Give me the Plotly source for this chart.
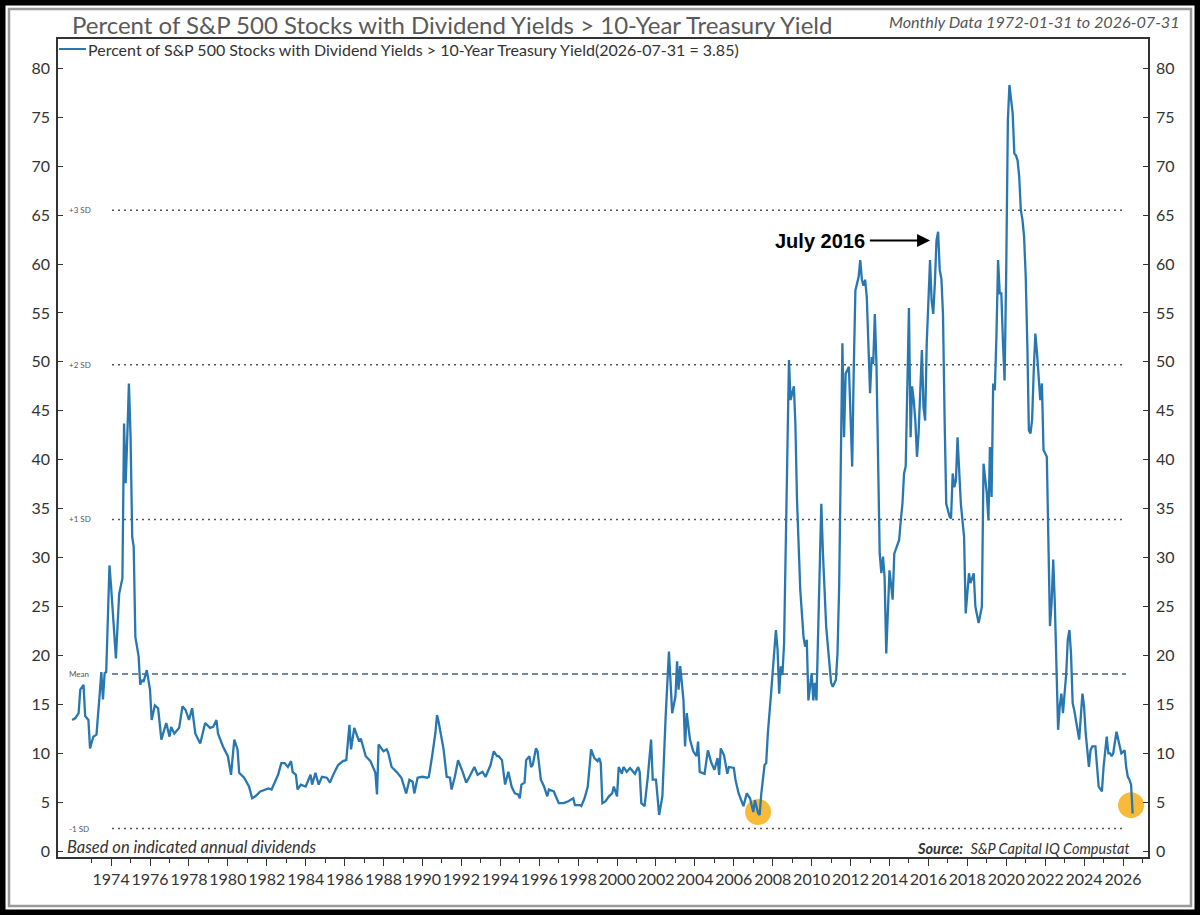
import plotly.graph_objs as go

dates = [
    "1972-01", "1972-03", "1972-05", "1972-06", "1972-08", "1972-09", "1972-11", "1972-12",
    "1973-02", "1973-04", "1973-06", "1973-07", "1973-08", "1973-09", "1973-10", "1973-12",
    "1974-01", "1974-03", "1974-04", "1974-06", "1974-08", "1974-09", "1974-10", "1974-11", "1974-12",
    "1975-01", "1975-02", "1975-03", "1975-04", "1975-06", "1975-07", "1975-08", "1975-09", "1975-11",
    "1976-01", "1976-02", "1976-04", "1976-06", "1976-08", "1976-11",
    "1977-01", "1977-02", "1977-04", "1977-07", "1977-09", "1977-11",
    "1978-01", "1978-03", "1978-05", "1978-08", "1978-11",
    "1979-02", "1979-04", "1979-06", "1979-07", "1979-10",
    "1980-01", "1980-03", "1980-04", "1980-05", "1980-07", "1980-08", "1980-11",
    "1981-02", "1981-04", "1981-06", "1981-09", "1981-11",
    "1982-02", "1982-04", "1982-06", "1982-08", "1982-10", "1982-12",
    "1983-02", "1983-04", "1983-05", "1983-07", "1983-08", "1983-10",
    "1984-01", "1984-03", "1984-04", "1984-05", "1984-07", "1984-09", "1984-11",
    "1985-02", "1985-04", "1985-06", "1985-09", "1985-12",
    "1986-02", "1986-04", "1986-05", "1986-07", "1986-08", "1986-10", "1986-11",
    "1987-02", "1987-05", "1987-07", "1987-08", "1987-09", "1987-10",
    "1988-01", "1988-03", "1988-04", "1988-06", "1988-09", "1988-12",
    "1989-03", "1989-05", "1989-07", "1989-08", "1989-10",
    "1990-01", "1990-04", "1990-05", "1990-07", "1990-09", "1990-10", "1990-11",
    "1991-02", "1991-04", "1991-06", "1991-07", "1991-09", "1991-11",
    "1992-02", "1992-04", "1992-06", "1992-09", "1992-11",
    "1993-02", "1993-04", "1993-06", "1993-07", "1993-09", "1993-11", "1993-12",
    "1994-02", "1994-04", "1994-06", "1994-08", "1994-10", "1994-12",
    "1995-01", "1995-02", "1995-04", "1995-05", "1995-07", "1995-08", "1995-09", "1995-11", "1995-12",
    "1996-02", "1996-04", "1996-06", "1996-07", "1996-10",
    "1997-01", "1997-04", "1997-07", "1997-10", "1997-11",
    "1998-02", "1998-03", "1998-05", "1998-07", "1998-09", "1998-11",
    "1999-01", "1999-02", "1999-03", "1999-04", "1999-06", "1999-08", "1999-10", "1999-11",
    "2000-01", "2000-02", "2000-04", "2000-05", "2000-07", "2000-09", "2000-12",
    "2001-02", "2001-03", "2001-04", "2001-06", "2001-08", "2001-10", "2001-11",
    "2002-01", "2002-02", "2002-03", "2002-05", "2002-06", "2002-07", "2002-09", "2002-10", "2002-11",
    "2003-01", "2003-02", "2003-03", "2003-04", "2003-06", "2003-07", "2003-08", "2003-10", "2003-12",
    "2004-02", "2004-03", "2004-04", "2004-07", "2004-09", "2004-11",
    "2005-01", "2005-03", "2005-04", "2005-05", "2005-07", "2005-09", "2005-10",
    "2006-01", "2006-02", "2006-04", "2006-06", "2006-07", "2006-09", "2006-11",
    "2007-01", "2007-02", "2007-04", "2007-05", "2007-06", "2007-08", "2007-09", "2007-10", "2007-12",
    "2008-01", "2008-03", "2008-04", "2008-05", "2008-06", "2008-07", "2008-08", "2008-09", "2008-10", "2008-11", "2008-12",
    "2009-02", "2009-03", "2009-04", "2009-06", "2009-08", "2009-09", "2009-10", "2009-11",
    "2010-01", "2010-02", "2010-03", "2010-04", "2010-06", "2010-07", "2010-08", "2010-10",
    "2011-01", "2011-02", "2011-04", "2011-05", "2011-06", "2011-07", "2011-08", "2011-09", "2011-10", "2011-12",
    "2012-01", "2012-02", "2012-03", "2012-04", "2012-06", "2012-07", "2012-08", "2012-09", "2012-10", "2012-11",
    "2013-01", "2013-02", "2013-03", "2013-04", "2013-05", "2013-06", "2013-07", "2013-08", "2013-09", "2013-10", "2013-11",
    "2014-01", "2014-02", "2014-03", "2014-04", "2014-05", "2014-07", "2014-08", "2014-09", "2014-10", "2014-11",
    "2015-01", "2015-02", "2015-03", "2015-04", "2015-05", "2015-06", "2015-07", "2015-08", "2015-09", "2015-10", "2015-11", "2015-12",
    "2016-02", "2016-03", "2016-04", "2016-05", "2016-06", "2016-07", "2016-08", "2016-09", "2016-10", "2016-11", "2016-12",
    "2017-02", "2017-03", "2017-04", "2017-05", "2017-06", "2017-07", "2017-09", "2017-11", "2017-12",
    "2018-01", "2018-02", "2018-03", "2018-05", "2018-06", "2018-07", "2018-08", "2018-10", "2018-11",
    "2019-01", "2019-02", "2019-03", "2019-04", "2019-05", "2019-06", "2019-07", "2019-08", "2019-09", "2019-10", "2019-11", "2019-12",
    "2020-01", "2020-02", "2020-03", "2020-04", "2020-05", "2020-06", "2020-07", "2020-08", "2020-09", "2020-10", "2020-11", "2020-12",
    "2021-01", "2021-02", "2021-03", "2021-04", "2021-05", "2021-06", "2021-07", "2021-08", "2021-09", "2021-10", "2021-11", "2021-12",
    "2022-02", "2022-03", "2022-04", "2022-05", "2022-06", "2022-07", "2022-08", "2022-09", "2022-10", "2022-11", "2022-12",
    "2023-02", "2023-03", "2023-04", "2023-05", "2023-06", "2023-07", "2023-08", "2023-10", "2023-12",
    "2024-01", "2024-02", "2024-04", "2024-05", "2024-06", "2024-08", "2024-09", "2024-10", "2024-12",
    "2025-01", "2025-03", "2025-04", "2025-05", "2025-06", "2025-07", "2025-08", "2025-09", "2025-11", "2025-12",
    "2026-02", "2026-03", "2026-04", "2026-05", "2026-06", "2026-07",
]

pct = [
    13.4, 13.6, 14.1, 16.5, 17.0, 13.8, 13.4, 10.5,
    11.7, 11.9, 16.1, 18.3, 15.5, 18.2, 18.3, 29.2,
    27.0, 21.9, 19.7, 26.3, 27.9, 43.7, 37.6, 42.4, 47.8,
    42.4, 32.1, 31.1, 21.9, 19.9, 17.0, 17.5, 17.3, 18.5,
    16.5, 13.4, 14.9, 14.6, 11.4, 13.1,
    11.7, 12.7, 12.0, 12.6, 14.8, 14.4,
    13.4, 14.6, 12.0, 11.0, 13.1,
    12.6, 12.7, 13.4, 12.0, 10.7,
    9.7, 7.8, 9.3, 11.4, 10.4, 8.0, 7.5,
    6.6, 5.4, 5.6, 6.1, 6.2,
    6.4, 6.3, 7.1, 7.8, 9.0, 9.0,
    8.6, 9.2, 8.1, 7.8, 6.3, 6.8,
    6.6, 7.5, 7.8, 6.8, 8.0, 6.8, 7.6,
    7.5, 7.0, 7.8, 8.8, 9.2,
    9.3, 12.9, 10.4, 12.6, 12.1, 11.2, 11.5,
    9.7, 9.2, 8.5, 8.0, 5.8, 10.9,
    10.2, 10.4, 10.0, 8.6, 8.1, 7.5,
    5.9, 7.3, 7.1, 5.9, 7.5,
    7.6, 7.5, 7.6, 9.7, 12.1, 13.9, 13.2,
    10.4, 7.6, 7.5, 6.3, 7.6, 9.3,
    8.0, 7.0, 7.6, 8.6, 7.8,
    8.1, 7.6, 8.3, 8.8, 10.2, 9.7, 9.7,
    9.3, 6.8, 8.1, 6.6, 5.9, 5.8,
    5.4, 6.8, 7.0, 9.3, 9.7, 8.6, 8.8, 10.5, 10.2,
    7.3, 6.6, 5.6, 6.3, 6.1,
    4.9, 4.9, 5.1, 5.4, 4.7,
    4.7, 4.6, 5.4, 6.6, 10.4, 9.5,
    9.2, 9.5, 9.0, 4.9, 5.1, 5.6, 5.9, 6.6,
    5.6, 8.6, 7.9, 8.6, 8.1, 8.5, 7.9,
    8.6, 8.1, 4.9, 4.6, 7.6, 11.4, 7.3,
    7.3, 5.2, 3.7, 5.6, 10.3, 13.7, 20.4, 17.2, 14.1,
    15.8, 19.4, 16.5, 18.9, 15.4, 10.7, 14.1, 11.4, 10.2,
    9.7, 11.2, 8.1, 7.9, 10.3, 9.1,
    8.3, 9.5, 7.8, 10.5, 9.8, 7.9, 8.6,
    8.5, 7.3, 5.9, 4.9, 4.6, 5.9, 5.4,
    4.0, 5.2, 3.9, 3.7, 5.9, 8.8, 9.0, 12.0, 16.1,
    18.5, 22.6, 20.6, 16.1, 18.9, 18.0, 21.2, 30.8, 42.7, 50.2, 46.1,
    47.5, 43.7, 35.9, 26.7, 21.9, 20.9, 21.6, 15.4,
    18.2, 15.4, 17.2, 15.4, 27.7, 35.5, 30.4, 22.9,
    17.2, 16.8, 17.5, 20.2, 27.0, 41.3, 51.9, 42.3, 48.8, 49.5,
    43.4, 39.3, 49.2, 57.3, 58.7, 60.4, 58.4, 57.8, 58.4, 56.6,
    46.8, 50.5, 49.8, 54.9, 49.8, 40.6, 30.4, 28.4, 30.1, 28.0, 20.2,
    28.7, 27.4, 25.7, 30.4, 30.9, 31.8, 33.8, 35.5, 38.6, 39.3,
    55.5, 42.3, 47.5, 46.1, 44.0, 40.3, 42.7, 46.4, 51.2, 45.4, 44.0, 51.9,
    60.4, 56.3, 54.9, 58.0, 62.4, 63.3, 59.4, 58.5, 54.9, 44.0, 35.5,
    34.2, 34.0, 38.6, 37.2, 37.9, 42.3, 35.5, 32.1, 24.3,
    26.4, 28.4, 27.4, 28.4, 25.0, 24.3, 23.3, 25.0, 39.6,
    36.6, 33.8, 41.3, 36.2, 47.8, 47.1, 52.6, 60.4, 57.0, 57.0, 51.9, 48.1,
    59.4, 74.7, 78.3, 76.7, 75.4, 71.3, 71.1, 70.6, 68.9, 65.5, 64.5, 62.8,
    58.7, 51.5, 43.0, 42.7, 44.1, 49.2, 52.9, 50.9, 48.5, 46.1, 47.8, 41.0,
    40.3, 30.8, 23.0, 25.3, 29.8, 25.3, 18.5, 12.4, 14.8, 16.1, 14.1,
    18.2, 21.6, 22.6, 20.2, 15.1, 14.4, 13.4, 11.4, 16.1,
    14.8, 12.0, 8.6, 10.3, 10.7, 10.7, 8.3, 6.6, 6.1,
    8.6, 11.7, 10.0, 10.0, 9.7, 10.0, 11.4, 12.2, 10.7, 10.0,
    10.3, 8.6, 7.6, 7.3, 6.8, 3.85,
]
assert len(dates) == len(pct)

# highlighted lows (yellow dots)
low_dates = ["2007-04", "2026-06"]
low_vals = [4.0, 4.7]

# band levels
sd_levels = [65.5, 49.7, 33.9, 18.1, 2.3]
sd_labels = ["+3 SD", "+2 SD", "+1 SD", "Mean", "-1 SD"]

# x tick labels (every other year)
year_labels = ["1974", "1976", "1978", "1980", "1982", "1984", "1986", "1988", "1990",
               "1992", "1994", "1996", "1998", "2000", "2002", "2004", "2006", "2008",
               "2010", "2012", "2014", "2016", "2018", "2020", "2022", "2024", "2026"]
minor_years = ["1973", "1975", "1977", "1979", "1981", "1983", "1985", "1987", "1989",
               "1991", "1993", "1995", "1997", "1999", "2001", "2003", "2005", "2007",
               "2009", "2011", "2013", "2015", "2017", "2019", "2021", "2023", "2025", "2027"]

LINE_COLOR = "#2877b0"
FONT = "Lato"

# plot area in pixels: left 58, right 1148, top 39, bottom 857
L, R, T, B = 58, 1148, 39, 857
def xp(px):
    return (px - L) / (R - L)
def yp(py):
    return (B - py) / (B - T)

line = go.Scatter(x=dates, y=pct, mode="lines",
                  line=dict(color=LINE_COLOR, width=2.3), hoverinfo="x+y", showlegend=False)
dots = go.Scatter(x=low_dates, y=low_vals, mode="markers",
                  marker=dict(size=26, color="rgba(247,178,30,0.88)", line=dict(width=0)),
                  hoverinfo="skip", showlegend=False)
right_dummy = go.Scatter(x=[dates[0]], y=[0], yaxis="y2", mode="markers",
                         marker=dict(opacity=0), hoverinfo="skip", showlegend=False)

shapes = []
annotations = []
for lvl, lab in zip(sd_levels, sd_labels):
    shapes.append(dict(type="line", xref="paper", yref="y", x0=xp(112), x1=xp(1126), y0=lvl, y1=lvl,
                       layer="between",
                       line=dict(color="#4f6272" if lab == "Mean" else "#555555",
                                 width=1.6 if lab == "Mean" else 1.5,
                                 dash="6px,4px" if lab == "Mean" else "2px,4px")))
    annotations.append(dict(xref="paper", yref="y", x=xp(67), y=lvl, text=lab, showarrow=False,
                            xanchor="left", yanchor="middle", font=dict(family=FONT, size=8, color="#555555")))

# frame around the image
shapes.append(dict(type="rect", xref="paper", yref="paper", x0=xp(0), x1=xp(1200), y0=yp(915), y1=yp(0),
                   line=dict(color="black", width=11)))
shapes.append(dict(type="rect", xref="paper", yref="paper", x0=xp(9), x1=xp(1191), y0=yp(906), y1=yp(9),
                   line=dict(color="#9a9a9a", width=2.5)))
# legend sample line
shapes.append(dict(type="line", xref="paper", yref="paper", x0=xp(59), x1=xp(86), y0=yp(49), y1=yp(49),
                   line=dict(color=LINE_COLOR, width=2)))

annotations += [
    dict(xref="paper", yref="paper", x=xp(452), y=yp(24), showarrow=False, xanchor="center", yanchor="middle",
         text="Percent of S&P 500 Stocks with Dividend Yields > 10-Year Treasury Yield",
         font=dict(family=FONT, size=24, color="#5a5a5a")),
    dict(xref="paper", yref="paper", x=xp(1182), y=yp(21), showarrow=False, xanchor="right", yanchor="middle",
         text="<i>Monthly Data 1972-01-31 to 2026-07-31</i>",
         font=dict(family=FONT, size=16.2, color="#555555")),
    dict(xref="paper", yref="paper", x=xp(86), y=yp(49), showarrow=False, xanchor="left", yanchor="middle",
         text="Percent of S&P 500 Stocks with Dividend Yields > 10-Year Treasury Yield(2026-07-31 = 3.85)",
         font=dict(family=FONT, size=16, color="#333333")),
    dict(xref="paper", yref="paper", x=xp(65), y=yp(847), showarrow=False, xanchor="left", yanchor="middle",
         text="<i>Based on indicated annual dividends</i>",
         font=dict(family=FONT, size=16.5, color="#333333")),
    dict(xref="paper", yref="paper", x=xp(1132), y=yp(848), showarrow=False, xanchor="right", yanchor="middle",
         text="<b><i>Source:</i></b>  <i>S&P Capital IQ Compustat</i>",
         font=dict(family=FONT, size=14.5, color="#333333")),
    # July 2016 call-out
    dict(x="2016-02-01", y=62.4, ax="2012-12-01", ay=62.4, axref="x", ayref="y", text="",
         showarrow=True, arrowhead=2, arrowsize=1.3, arrowwidth=2, arrowcolor="black"),
    dict(x="2012-11-01", y=62.4, text="<b>July 2016</b>", showarrow=False, xanchor="right", yanchor="middle",
         font=dict(family="Liberation Sans", size=20, color="black")),
]

axis_font = dict(family=FONT, size=16, color="#333333")
yrange = [-0.6, 83.0]

layout = go.Layout(
    width=1200, height=915,
    margin=dict(l=L, r=1200 - R, t=T, b=915 - B, autoexpand=False),
    paper_bgcolor="white", plot_bgcolor="white",
    showlegend=False, hovermode="closest",
    xaxis=dict(type="date", range=["1971-04-10", "2027-04-15"],
               tickmode="array", tickvals=[y + "-01-01" for y in year_labels], ticktext=year_labels,
               tickangle=0, ticks="outside", ticklen=7, tickwidth=1, tickcolor="#333333",
               showline=True, linecolor="#333333", linewidth=1.5, mirror=True, showgrid=False,
               zeroline=False, automargin=False, tickfont=dict(family=FONT, size=16, color="#333333"),
               minor=dict(tickmode="array", tickvals=[y + "-01-01" for y in minor_years],
                          ticks="outside", ticklen=4, tickcolor="#333333", showgrid=False)),
    yaxis=dict(range=yrange, tick0=0, dtick=5, ticks="inside", ticklen=5, tickcolor="#333333",
               showline=True, linecolor="#333333", linewidth=1.5, showgrid=False, zeroline=False,
               automargin=False, tickfont=axis_font, ticklabelstandoff=3),
    yaxis2=dict(range=yrange, tick0=0, dtick=5, ticks="inside", ticklen=5, tickcolor="#333333",
                overlaying="y", side="right", showline=True, linecolor="#333333", linewidth=1.5,
                showgrid=False, zeroline=False, automargin=False, tickfont=axis_font, ticklabelstandoff=3),
    shapes=shapes,
    annotations=annotations,
)

fig = go.Figure(data=[dots, line, right_dummy], layout=layout)
# the page body has a default 8px margin; drop it so the figure sits at the window corner
fig.write_html("out.html", config={"displayModeBar": False},
               post_script="document.body.style.margin='0';")
